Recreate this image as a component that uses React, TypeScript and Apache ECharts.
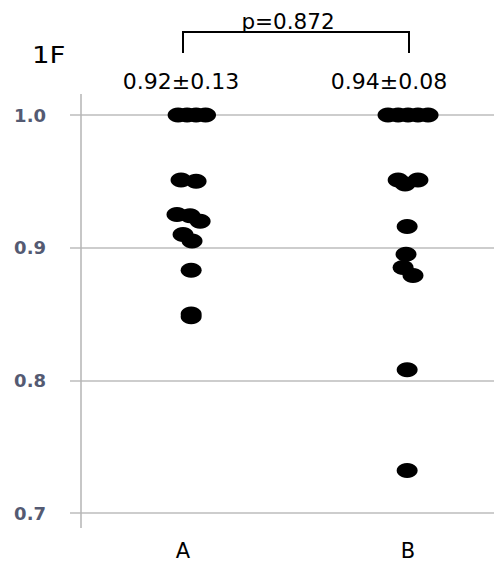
import React, { useEffect, useRef } from "react";
import * as echarts from "echarts";

const categories = ["A", "B"];
const yTicks = [0.7, 0.8, 0.9, 1.0];

// group A values and horizontal jitter (category units)
const valuesA = [1.0, 1.0, 1.0, 1.0, 0.951, 0.95, 0.925, 0.924, 0.92, 0.91, 0.905, 0.883, 0.85, 0.848];
const jitterA = [-0.022, 0.018, 0.058, 0.1, -0.009, 0.058, -0.027, 0.031, 0.076, 0.0, 0.04, 0.036, 0.036, 0.036];
// group B
const valuesB = [1.0, 1.0, 1.0, 1.0, 1.0, 0.951, 0.948, 0.951, 0.916, 0.895, 0.885, 0.879, 0.808, 0.732];
const jitterB = [-0.089, -0.044, 0.0, 0.044, 0.089, -0.044, -0.013, 0.044, -0.004, -0.009, -0.022, 0.022, -0.004, -0.004];

const summaries = ["0.92±0.13", "0.94±0.08"];
const pText = "p=0.872";
const panelLabel = "1F";

export default function App() {
  const ref = useRef<HTMLDivElement>(null);
  useEffect(() => {
    if (!ref.current) return;
    const chart = echarts.init(ref.current, null, { renderer: "svg" });
    const toPts = (vals: number[], jit: number[], idx: number) =>
      vals.map((v, i) => [idx + 1 + jit[i], v]);
    const font = "DejaVu Sans";
    chart.setOption({
      animation: false,
      backgroundColor: "#ffffff",
      grid: { left: 80, right: 0, top: 115, bottom: 49, containLabel: false },
      xAxis: {
        type: "value",
        min: 0.542,
        max: 2.382,
        splitLine: { show: false },
        axisLine: { show: false },
        axisTick: { show: false },
        axisLabel: {
          customValues: [1, 2],
          formatter: (v: number) => categories[Math.round(v) - 1] ?? "",
          margin: 27,
          fontSize: 21,
          color: "#000000",
          fontFamily: font,
        },
      },
      yAxis: {
        type: "value",
        min: 0.7,
        max: 1.0,
        interval: 0.1,
        axisLine: { show: false },
        axisTick: { show: true, length: 10, lineStyle: { color: "#bdbdbd", width: 1.5 } },
        splitLine: { show: true, lineStyle: { color: "#bdbdbd", width: 1.5 } },
        axisLabel: {
          formatter: (v: number) => yTicks.find((t) => Math.abs(t - v) < 1e-6)?.toFixed(1) ?? "",
          margin: 34,
          fontSize: 18,
          fontWeight: "bold",
          color: "#545a72",
          fontFamily: font,
        },
      },
      graphic: [
        { type: "line", shape: { x1: 81, y1: 94, x2: 81, y2: 528 }, style: { stroke: "#b5b5b5", lineWidth: 1.5 }, z: 1 },
        { type: "polyline", shape: { points: [[183, 53], [183, 32], [409, 32], [409, 53]] }, style: { stroke: "#000", lineWidth: 2, fill: null } },
        { type: "text", x: 288, y: 21, style: { text: pText, fontSize: 21.5, fill: "#000", fontFamily: font, textAlign: "center", textVerticalAlign: "middle" } },
        { type: "text", x: 32, y: 55, scaleX: 1.2, style: { text: panelLabel, fontSize: 23, fill: "#000", fontFamily: font, textAlign: "left", textVerticalAlign: "middle" } },
        { type: "text", x: 181, y: 81, style: { text: summaries[0], fontSize: 22, fill: "#000", fontFamily: font, textAlign: "center", textVerticalAlign: "middle" } },
        { type: "text", x: 389, y: 81, style: { text: summaries[1], fontSize: 22, fill: "#000", fontFamily: font, textAlign: "center", textVerticalAlign: "middle" } },
      ],
      series: [
        {
          type: "scatter",
          data: toPts(valuesA, jitterA, 0),
          symbol: "circle",
          symbolSize: [21, 15],
          itemStyle: { color: "#000000", opacity: 1 },
          z: 5,
        },
        {
          type: "scatter",
          data: toPts(valuesB, jitterB, 1),
          symbol: "circle",
          symbolSize: [21, 15],
          itemStyle: { color: "#000000", opacity: 1 },
          z: 5,
        },
      ],
    });
    return () => chart.dispose();
  }, []);
  return (
    <div
      ref={ref}
      style={{ position: "fixed", left: 0, top: 0, width: 494, height: 562, background: "#fff" }}
    />
  );
}
